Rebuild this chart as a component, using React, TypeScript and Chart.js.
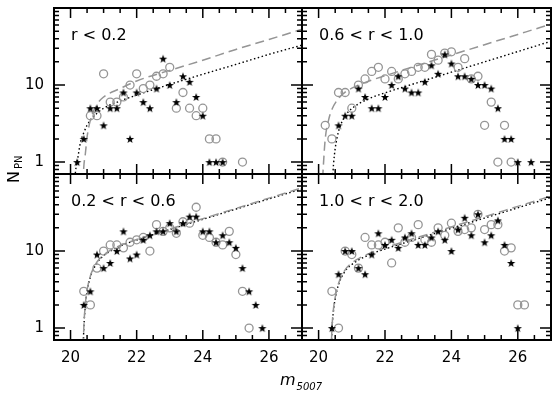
import React, { useEffect, useRef } from "react";
import { Chart, registerables } from "chart.js";
Chart.register(...registerables);

// ---- axis ranges & ticks ----
const X_MIN = 19.5;
const X_MAX = 27;
const Y_MIN = 0.7;
const Y_MAX = 100;
const xLabelTicks = [20, 22, 24, 26];
const xMajorTicks = [20, 22, 24, 26];
const xMinorTicks = [20.5, 21, 21.5, 22.5, 23, 23.5, 24.5, 25, 25.5, 26.5];
const yLabelTicks = [1, 10];
const yMajorTicks = [1, 10];
const yMinorTicks = [0.8, 0.9, 2, 3, 4, 5, 6, 7, 8, 9, 20, 30, 40, 50, 60, 70, 80, 90];
const panelLabels = ["r < 0.2", "0.6 < r < 1.0", "0.2 < r < 0.6", "1.0 < r < 2.0"];
const xTitle = "m";
const xTitleSub = "5007";
const yTitle = "N";
const yTitleSub = "PN";

// ---- panel 1: r < 0.2 ----
const tlStarM = [20.2, 20.4, 20.6, 20.8, 21.0, 21.2, 21.4, 21.6, 21.8, 22.0, 22.2, 22.4, 22.6, 22.8, 23.0, 23.2, 23.4, 23.6, 23.8, 24.0, 24.2, 24.4, 24.6];
const tlStarN = [1, 2, 5, 5, 3, 5, 5, 8, 2, 8, 6, 5, 9, 22, 10, 6, 13, 11, 7, 4, 1, 1, 1];
const tlCircM = [20.6, 20.8, 21.0, 21.2, 21.4, 21.6, 21.8, 22.0, 22.2, 22.4, 22.6, 22.8, 23.0, 23.2, 23.4, 23.6, 23.8, 24.0, 24.2, 24.4, 24.6, 25.2];
const tlCircN = [4, 4, 14, 6, 6, 7, 10, 14, 9, 10, 13, 14, 17, 5, 8, 5, 4, 5, 2, 2, 1, 1];
const tlDashM = [20.36, 20.4, 20.45, 20.5, 20.6, 20.8, 21, 21.5, 22, 23, 24, 25, 26, 27];
const tlDashN = [0.35, 0.85, 1.3, 2.1, 3.5, 5.6, 7.0, 9.0, 11.3, 15.5, 21, 29, 39, 53];
const tlDotM = [20.12, 20.15, 20.2, 20.3, 20.4, 20.5, 20.6, 20.8, 21, 21.5, 22, 23, 24, 25, 26, 27];
const tlDotN = [0.5, 0.75, 1.0, 1.8, 2.4, 3.0, 3.5, 4.3, 5.0, 6.2, 7.4, 10.2, 13.8, 18.5, 25, 33];

// ---- panel 2: 0.6 < r < 1.0 ----
const trStarM = [20.6, 20.8, 21.0, 21.2, 21.4, 21.6, 21.8, 22.0, 22.2, 22.4, 22.6, 22.8, 23.0, 23.2, 23.4, 23.6, 23.8, 24.0, 24.2, 24.4, 24.6, 24.8, 25.0, 25.2, 25.4, 25.6, 25.8, 26.0, 26.4];
const trStarN = [3, 4, 4, 9, 7, 5, 5, 7, 10, 13, 9, 8, 8, 11, 18, 14, 25, 19, 13, 13, 12, 10, 10, 9, 5, 2, 2, 1, 1];
const trCircM = [20.2, 20.4, 20.6, 20.8, 21.0, 21.2, 21.4, 21.6, 21.8, 22.0, 22.2, 22.4, 22.6, 22.8, 23.0, 23.2, 23.4, 23.6, 23.8, 24.0, 24.2, 24.4, 24.6, 24.8, 25.0, 25.2, 25.4, 25.6, 25.8];
const trCircN = [3, 2, 8, 8, 5, 10, 12, 15, 17, 12, 15, 12, 14, 15, 17, 17, 25, 21, 26, 27, 17, 22, 12, 13, 3, 6, 1, 3, 1];
const trDashM = [20.1, 20.14, 20.2, 20.3, 20.4, 20.6, 20.8, 21, 21.5, 22, 23, 24, 25, 26, 27];
const trDashN = [0.4, 0.85, 2.0, 3.5, 4.8, 6.7, 8.1, 9.1, 11.2, 13.2, 18.1, 24.6, 33.4, 45.4, 61.7];
const trDotM = [20.38, 20.42, 20.45, 20.5, 20.6, 20.8, 21, 21.5, 22, 23, 24, 25, 26, 27];
const trDotN = [0.3, 0.6, 0.94, 1.5, 2.5, 3.95, 4.95, 6.6, 7.9, 10.8, 14.7, 20, 27.2, 37];

// ---- panel 3: 0.2 < r < 0.6 ----
const blStarM = [20.4, 20.6, 20.8, 21.0, 21.2, 21.4, 21.6, 21.8, 22.0, 22.2, 22.4, 22.6, 22.8, 23.0, 23.2, 23.4, 23.6, 23.8, 24.0, 24.2, 24.4, 24.6, 24.8, 25.0, 25.2, 25.4, 25.6, 25.8];
const blStarN = [2, 3, 9, 6, 7, 10, 18, 8, 9, 14, 16, 18, 18, 23, 18, 23, 28, 28, 18, 18, 13, 16, 13, 11, 6, 3, 2, 1];
const blCircM = [20.4, 20.6, 20.8, 21.0, 21.2, 21.4, 21.6, 21.8, 22.0, 22.2, 22.4, 22.6, 22.8, 23.0, 23.2, 23.4, 23.6, 23.8, 24.0, 24.2, 24.4, 24.6, 24.8, 25.0, 25.2, 25.4];
const blCircN = [3, 2, 6, 10, 12, 12, 11, 13, 14, 15, 10, 22, 18, 20, 17, 24, 23, 37, 16, 15, 13, 12, 18, 9, 3, 1];
const blDashM = [20.34, 20.38, 20.4, 20.45, 20.5, 20.6, 20.8, 21, 21.2, 21.5, 22, 23, 24, 25, 26, 27];
const blDashN = [0.25, 0.5, 0.98, 2.1, 3.1, 4.75, 7.2, 8.9, 10.2, 11.8, 14.1, 19.3, 26.3, 35.7, 48.6, 66];
const blDotM = [20.34, 20.38, 20.4, 20.45, 20.5, 20.6, 20.8, 21, 21.2, 21.5, 22, 23, 24, 25, 26, 27];
const blDotN = [0.25, 0.5, 0.95, 2.0, 3.0, 4.6, 7.0, 8.7, 10.0, 11.6, 13.9, 19.0, 25.8, 35, 47.5, 64];

// ---- panel 4: 1.0 < r < 2.0 ----
const brStarM = [20.4, 20.6, 20.8, 21.0, 21.2, 21.4, 21.6, 21.8, 22.0, 22.2, 22.4, 22.6, 22.8, 23.0, 23.2, 23.4, 23.6, 23.8, 24.0, 24.2, 24.4, 24.6, 24.8, 25.0, 25.2, 25.4, 25.6, 25.8, 26.0];
const brStarN = [1, 5, 10, 10, 6, 5, 9, 17, 12, 14, 11, 15, 17, 12, 12, 15, 18, 14, 10, 19, 27, 16, 30, 13, 16, 25, 12, 7, 1];
const brCircM = [20.4, 20.6, 20.8, 21.0, 21.2, 21.4, 21.6, 21.8, 22.0, 22.2, 22.4, 22.6, 22.8, 23.0, 23.2, 23.4, 23.6, 23.8, 24.0, 24.2, 24.4, 24.6, 24.8, 25.0, 25.2, 25.4, 25.6, 25.8, 26.0, 26.2];
const brCircN = [3, 1, 10, 9, 6, 15, 12, 12, 13, 7, 20, 13, 15, 22, 14, 13, 20, 16, 23, 18, 19, 20, 30, 19, 22, 22, 10, 11, 2, 2];
const brDashM = [20.33, 20.37, 20.4, 20.45, 20.5, 20.6, 20.8, 21, 21.5, 22, 23, 24, 25, 26, 27];
const brDashN = [0.2, 0.39, 0.95, 1.8, 2.5, 3.8, 5.7, 7.0, 9.2, 11.0, 15.1, 20.6, 27.9, 38, 51.7];
const brDotM = [20.33, 20.37, 20.4, 20.45, 20.5, 20.6, 20.8, 21, 21.5, 22, 23, 24, 25, 26, 27];
const brDotN = [0.19, 0.37, 0.9, 1.7, 2.4, 3.66, 5.5, 6.7, 8.85, 10.6, 14.5, 19.7, 26.8, 36.4, 49.5];

// ---- layout / styles ----
const W = 560;
const H = 399;
const FONT = "'DejaVu Sans', sans-serif";
const GREY = "#959595";

type Rect = { l: number; t: number; r: number; b: number };
const panels = [
  { rect: { l: 54, t: 8, r: 302, b: 174 }, showX: false, showY: true, sM: tlStarM, sN: tlStarN, cM: tlCircM, cN: tlCircN, dM: tlDashM, dN: tlDashN, oM: tlDotM, oN: tlDotN, titles: true },
  { rect: { l: 302, t: 8, r: 551, b: 174 }, showX: false, showY: false, sM: trStarM, sN: trStarN, cM: trCircM, cN: trCircN, dM: trDashM, dN: trDashN, oM: trDotM, oN: trDotN, titles: false },
  { rect: { l: 54, t: 174, r: 302, b: 340 }, showX: true, showY: true, sM: blStarM, sN: blStarN, cM: blCircM, cN: blCircN, dM: blDashM, dN: blDashN, oM: blDotM, oN: blDotN, titles: false },
  { rect: { l: 302, t: 174, r: 551, b: 340 }, showX: true, showY: false, sM: brStarM, sN: brStarN, cM: brCircM, cN: brCircN, dM: brDashM, dN: brDashN, oM: brDotM, oN: brDotN, titles: false },
];

const pts = (m: number[], n: number[]) => m.map((x, i) => ({ x, y: n[i] }));

function makeStar(): HTMLCanvasElement {
  const c = document.createElement("canvas");
  c.width = 10;
  c.height = 10;
  const g = c.getContext("2d")!;
  g.beginPath();
  for (let i = 0; i < 10; i++) {
    const r = i % 2 ? 1.8 : 4.3;
    const a = -Math.PI / 2 + (i * Math.PI) / 5;
    const x = 5 + r * Math.cos(a);
    const y = 5.4 + r * Math.sin(a);
    if (i === 0) g.moveTo(x, y);
    else g.lineTo(x, y);
  }
  g.closePath();
  g.fillStyle = "#000";
  g.fill();
  return c;
}

const zeroPad = (s: any) => {
  s.paddingTop = 0;
  s.paddingBottom = 0;
  s.paddingLeft = 0;
  s.paddingRight = 0;
};

function Panel({ idx }: { idx: number }) {
  const ref = useRef<HTMLCanvasElement>(null);
  useEffect(() => {
    const p = panels[idx];
    const star = makeStar();
    const label = panelLabels[idx];
    const r: Rect = p.rect;
    const yW = p.showY ? r.l : 0;
    const xH = p.showX ? H - r.b : 0;
    const frame = {
      id: "frame" + idx,
      afterDraw(chart: any) {
        const ctx = chart.ctx;
        const a = chart.chartArea;
        const xs = chart.scales.x;
        const ys = chart.scales.y;
        ctx.save();
        ctx.strokeStyle = "#000";
        ctx.lineWidth = 1.5;
        const vt = (v: number, len: number) => {
          const px = xs.getPixelForValue(v);
          ctx.beginPath();
          ctx.moveTo(px, a.bottom);
          ctx.lineTo(px, a.bottom - len);
          ctx.moveTo(px, a.top);
          ctx.lineTo(px, a.top + len);
          ctx.stroke();
        };
        const ht = (v: number, len: number) => {
          const py = ys.getPixelForValue(v);
          ctx.beginPath();
          ctx.moveTo(a.left, py);
          ctx.lineTo(a.left + len, py);
          ctx.moveTo(a.right, py);
          ctx.lineTo(a.right - len, py);
          ctx.stroke();
        };
        xMajorTicks.forEach((v) => vt(v, 10));
        xMinorTicks.forEach((v) => vt(v, 5));
        yMajorTicks.forEach((v) => ht(v, 11));
        yMinorTicks.forEach((v) => ht(v, 5));
        ctx.lineWidth = 2;
        ctx.strokeRect(a.left, a.top, a.right - a.left, a.bottom - a.top);
        ctx.fillStyle = "#000";
        ctx.font = "16px " + FONT;
        ctx.textBaseline = "alphabetic";
        ctx.textAlign = "left";
        ctx.fillText(label, a.left + 17, a.top + 32);
        if (p.titles) {
          ctx.save();
          ctx.translate(18.5, 183);
          ctx.rotate(-Math.PI / 2);
          ctx.font = "16px " + FONT;
          ctx.fillText(yTitle, 0, 0);
          const w = ctx.measureText(yTitle).width;
          ctx.font = "10px " + FONT;
          ctx.fillText(yTitleSub, w + 2, 3.5);
          ctx.restore();
          ctx.font = "italic 16px " + FONT;
          ctx.fillText(xTitle, 280, 385);
          const wm = ctx.measureText(xTitle).width;
          ctx.font = "italic 10px " + FONT;
          ctx.fillText(xTitleSub, 280 + wm + 1, 390);
        }
        ctx.restore();
      },
    };
    const chart = new Chart(ref.current!, {
      type: "scatter",
      data: {
        datasets: [
          {
            data: pts(p.sM, p.sN),
            pointStyle: star as any,
            pointRadius: 5,
            showLine: false,
          },
          {
            data: pts(p.cM, p.cN),
            pointStyle: "circle",
            pointRadius: 4,
            borderColor: GREY,
            backgroundColor: "rgba(0,0,0,0)",
            borderWidth: 1.3,
            showLine: false,
          },
          {
            data: pts(p.dM, p.dN),
            showLine: true,
            pointRadius: 0,
            borderColor: GREY,
            borderWidth: 1.5,
            borderDash: [9, 5],
            cubicInterpolationMode: "monotone",
            fill: false,
          },
          {
            data: pts(p.oM, p.oN),
            showLine: true,
            pointRadius: 0,
            borderColor: "#000",
            borderWidth: 1.4,
            borderDash: [1.5, 2.5],
            cubicInterpolationMode: "monotone",
            fill: false,
          },
        ] as any,
      },
      options: {
        responsive: false,
        animation: false,
        events: [],
        layout: {
          autoPadding: false,
          padding: { left: r.l - yW, top: r.t, right: W - r.r, bottom: H - r.b - xH },
        },
        plugins: { legend: { display: false }, tooltip: { enabled: false } },
        scales: {
          x: {
            type: "linear",
            min: X_MIN,
            max: X_MAX,
            afterFit: (s: any) => {
              s.height = xH;
              zeroPad(s);
            },
            afterBuildTicks: (s: any) => {
              s.ticks = xLabelTicks.map((v) => ({ value: v }));
            },
            grid: { display: false, drawTicks: false },
            border: { display: false },
            ticks: {
              display: p.showX,
              autoSkip: false,
              maxRotation: 0,
              padding: 9,
              color: "#000",
              font: { family: FONT, size: 15 },
              callback: (v: any) => String(v),
            },
          },
          y: {
            type: "logarithmic",
            min: Y_MIN,
            max: Y_MAX,
            afterFit: (s: any) => {
              s.width = yW;
              zeroPad(s);
            },
            afterBuildTicks: (s: any) => {
              s.ticks = yLabelTicks.map((v) => ({ value: v }));
            },
            grid: { display: false, drawTicks: false },
            border: { display: false },
            ticks: {
              display: p.showY,
              autoSkip: false,
              padding: 10,
              color: "#000",
              font: { family: FONT, size: 15 },
              callback: (v: any) => String(v),
            },
          },
        },
      } as any,
      plugins: [frame],
    });
    return () => chart.destroy();
  }, [idx]);
  return (
    <canvas
      ref={ref}
      width={W}
      height={H}
      style={{ position: "absolute", left: 0, top: 0, width: W, height: H }}
    />
  );
}

export default function App() {
  return (
    <div style={{ position: "fixed", left: 0, top: 0, width: W, height: H, background: "#fff", overflow: "hidden" }}>
      {panels.map((_, i) => (
        <Panel key={i} idx={i} />
      ))}
    </div>
  );
}
